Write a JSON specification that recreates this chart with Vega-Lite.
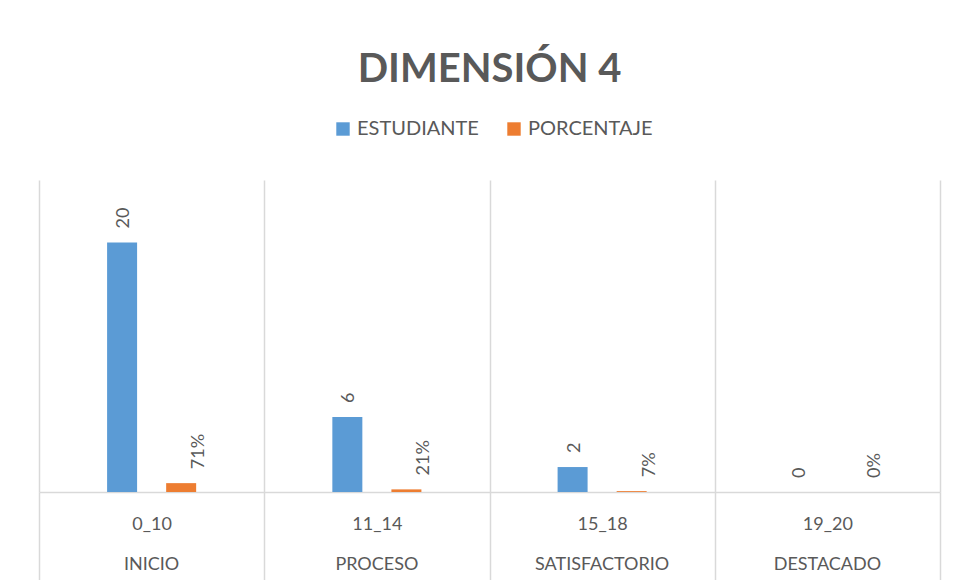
{
  "$schema": "https://vega.github.io/schema/vega-lite/v6.json",
  "width": 901,
  "height": 312,
  "autosize": {"type": "none"},
  "padding": {"left": 39, "top": 180, "right": 14, "bottom": 88},
  "background": "white",
  "title": {"text": "DIMENSIÓN 4", "fontSize": 40, "font": "Lato", "fontWeight": "bold", "color": "#595959", "anchor": "middle", "offset": 29},
  "config": {"view": {"stroke": null}, "font": "Lato"},
  "data": {"values": [
    {"rango": "0_10", "nivel": "INICIO", "serie": "ESTUDIANTE", "valor": 20, "etiqueta": "20"},
    {"rango": "0_10", "nivel": "INICIO", "serie": "PORCENTAJE", "valor": 0.71, "etiqueta": "71%"},
    {"rango": "11_14", "nivel": "PROCESO", "serie": "ESTUDIANTE", "valor": 6, "etiqueta": "6"},
    {"rango": "11_14", "nivel": "PROCESO", "serie": "PORCENTAJE", "valor": 0.21, "etiqueta": "21%"},
    {"rango": "15_18", "nivel": "SATISFACTORIO", "serie": "ESTUDIANTE", "valor": 2, "etiqueta": "2"},
    {"rango": "15_18", "nivel": "SATISFACTORIO", "serie": "PORCENTAJE", "valor": 0.07, "etiqueta": "7%"},
    {"rango": "19_20", "nivel": "DESTACADO", "serie": "ESTUDIANTE", "valor": 0, "etiqueta": "0"},
    {"rango": "19_20", "nivel": "DESTACADO", "serie": "PORCENTAJE", "valor": 0, "etiqueta": "0%"}
  ]},
  "layer": [
    {
      "mark": {"type": "bar", "width": 30},
      "encoding": {
        "x": {"field": "rango", "type": "nominal", "sort": null, "scale": {"paddingInner": 0, "paddingOuter": 0},
          "axis": {"orient": "bottom", "title": null, "labelAngle": 0, "labelFontSize": 18, "labelColor": "#595959", "labelPadding": -65,
            "grid": true, "gridColor": "#d9d9d9", "gridWidth": 1.5, "tickBand": "extent", "ticks": true, "tickSize": 88, "tickColor": "#d9d9d9", "tickWidth": 1.5,
            "domainColor": "#d9d9d9", "domainWidth": 1.5}},
        "xOffset": {"field": "serie", "type": "nominal", "sort": null, "scale": {"paddingInner": 0.186, "paddingOuter": 1}},
        "y": {"field": "valor", "type": "quantitative", "scale": {"domain": [0, 25], "nice": false}, "axis": null},
        "color": {"field": "serie", "type": "nominal", "sort": null,
          "scale": {"domain": ["ESTUDIANTE", "PORCENTAJE"], "range": ["#5b9bd5", "#ed7d31"]},
          "legend": {"orient": "none", "legendX": 294, "legendY": -61, "direction": "horizontal", "title": null, "symbolType": "square", "symbolSize": 180,
            "labelFontSize": 20, "labelColor": "#595959", "columnPadding": 25, "padding": 0, "symbolStrokeWidth": 0, "symbolOpacity": 1}}
      }
    },
    {
      "mark": {"type": "text", "angle": 270, "align": "left", "baseline": "middle", "dx": 14, "dy": 10, "fontSize": 18, "color": "#595959"},
      "encoding": {
        "x": {"field": "nivel", "type": "nominal", "sort": null, "scale": {"paddingInner": 0, "paddingOuter": 0},
          "axis": {"orient": "bottom", "title": null, "labelAngle": 0, "labelFontSize": 18, "labelColor": "#595959", "labelPadding": 63,
            "grid": false, "ticks": false, "domain": false}},
        "xOffset": {"field": "serie", "type": "nominal", "sort": null, "scale": {"paddingInner": 0.186, "paddingOuter": 1}},
        "y": {"field": "valor", "type": "quantitative", "scale": {"domain": [0, 25], "nice": false}, "axis": null},
        "text": {"field": "etiqueta"}
      }
    }
  ],
  "resolve": {"scale": {"x": "independent", "xOffset": "independent"}, "axis": {"x": "independent"}}
}
